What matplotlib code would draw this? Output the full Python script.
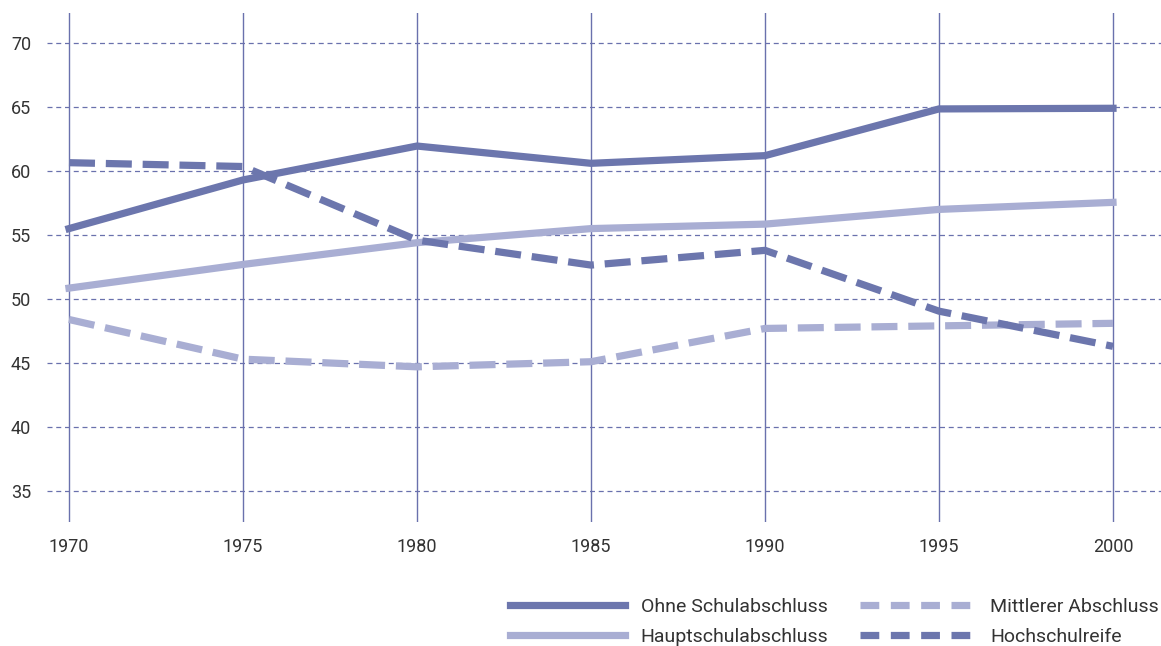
import matplotlib.pyplot as plt
from matplotlib.lines import Line2D

plt.rcParams['font.family'] = ['Roboto', 'DejaVu Sans']

years = [1970, 1975, 1980, 1985, 1990, 1995, 2000]
ohne = [55.5, 59.3, 61.95, 60.6, 61.2, 64.85, 64.9]
haupt = [50.85, 52.7, 54.4, 55.5, 55.85, 57.0, 57.55]
mittlerer = [48.4, 45.3, 44.7, 45.1, 47.7, 47.9, 48.1]
hochschul = [60.65, 60.35, 54.6, 52.65, 53.8, 49.05, 46.3]
y_ticks = [35, 40, 45, 50, 55, 60, 65, 70]

dark = '#6c76ad'
light = '#a9aed3'
grid_col = '#6a71ad'
text_col = '#333333'

fig = plt.figure(figsize=(11.61, 6.46), dpi=100)
ax = fig.add_axes([47 / 1161, 1 - 522 / 646, 1114 / 1161, 509 / 646])

# vertical solid grid lines at the year ticks, horizontal dashed grid
for yr in years:
    ax.axvline(yr, color=grid_col, lw=1.0, zorder=1)
for v in y_ticks:
    ax.axhline(v, color=grid_col, lw=0.9, ls=(0, (4, 3)), zorder=1)

lw = 5.2
ax.plot(years, ohne, color=dark, lw=lw, solid_joinstyle='miter', zorder=3)
ax.plot(years, haupt, color=light, lw=lw, solid_joinstyle='miter', zorder=3)
ax.plot(years, mittlerer, color=light, lw=lw, ls=(0, (3.6, 1.5)), zorder=3)
ax.plot(years, hochschul, color=dark, lw=lw, ls=(0, (3.6, 1.5)), zorder=3)

ax.set_xlim(1970 - 22 / 34.8, 2000 + 48 / 34.8)
ax.set_ylim(70 - 479 / 12.8, 70 + 30 / 12.8)
ax.set_xticks(years)
ax.set_yticks(y_ticks)
ax.tick_params(length=0, labelsize=13, labelcolor=text_col, pad=11.5)
for s in ax.spines.values():
    s.set_visible(False)

handles = [
    Line2D([], [], color=dark, lw=5.2),
    Line2D([], [], color=light, lw=5.2),
    Line2D([], [], color=light, lw=5.2, ls=(0, (2.6, 1.6))),
    Line2D([], [], color=dark, lw=5.2, ls=(0, (2.6, 1.6))),
]
labels = ['Ohne Schulabschluss', 'Hauptschulabschluss', 'Mittlerer Abschluss', 'Hochschulreife']
fig.legend(handles, labels, ncol=2, loc='center right', bbox_to_anchor=(1159 / 1161, 1 - 622 / 646),
           frameon=False, fontsize=14, handlelength=5.9, handletextpad=0.82,
           columnspacing=1.6, labelspacing=0.62, borderpad=0, borderaxespad=0,
           labelcolor=text_col)

fig.savefig('out.png', dpi=100)
